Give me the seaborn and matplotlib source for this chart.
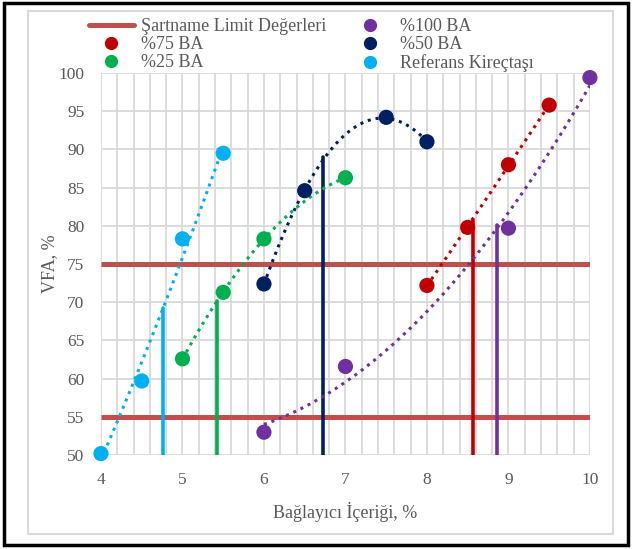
import numpy as np
import pandas as pd
import matplotlib.pyplot as plt
import matplotlib.patches as mpatches
from matplotlib.lines import Line2D
from matplotlib.ticker import MultipleLocator
import seaborn as sns

# series data
series_names = ["Referans Kireçtaşı", "%25 BA", "%50 BA", "%75 BA", "%100 BA"]
series_colors = ["#00B0F0", "#00B050", "#002060", "#C00000", "#7030A0"]

x_ref = [4.0, 4.5, 5.0, 5.5]
vfa_ref = [50.2, 59.7, 78.3, 89.5]
x_25 = [5.0, 5.5, 6.0, 7.0]
vfa_25 = [62.6, 71.3, 78.3, 86.3]
x_50 = [6.0, 6.5, 7.5, 8.0]
vfa_50 = [72.4, 84.6, 94.2, 91.0]
x_75 = [8.0, 8.5, 9.0, 9.5]
vfa_75 = [72.2, 79.8, 88.0, 95.8]
x_100 = [6.0, 7.0, 9.0, 10.0]
vfa_100 = [53.0, 61.6, 79.7, 99.4]

# specification limits and optimum binder content markers
limit_values = [55, 75]
opt_binder = [4.76, 5.42, 6.72, 8.57, 8.86]
opt_vfa = [69.2, 70.2, 89.0, 80.8, 80.1]

xs = [x_ref, x_25, x_50, x_75, x_100]
ys = [vfa_ref, vfa_25, vfa_50, vfa_75, vfa_100]
df = pd.concat([pd.DataFrame({"Bağlayıcı": x, "VFA": y, "Seri": n})
                for x, y, n in zip(xs, ys, series_names)], ignore_index=True)

sns.set_theme(style="white")
plt.rcParams['font.family'] = ['Liberation Serif', 'DejaVu Serif']
text_color = "#595959"
grid_color = "#D9D9D9"
limit_color = "#C0504D"

fig = plt.figure(figsize=(6.35, 5.49), dpi=100)
ax = fig.add_axes([0.159, 0.171, 0.770, 0.696])

ax.set_xlim(4, 10)
ax.set_ylim(50, 100)
ax.xaxis.set_major_locator(MultipleLocator(1))
ax.xaxis.set_minor_locator(MultipleLocator(0.2))
ax.yaxis.set_major_locator(MultipleLocator(5))
ax.grid(which="both", axis="x", color=grid_color, lw=1.3, zorder=0)
ax.grid(which="major", axis="y", color=grid_color, lw=1.3, zorder=0)
ax.set_axisbelow(True)
for s in ax.spines.values():
    s.set_visible(False)

# limit lines
for v in limit_values:
    ax.plot([4, 10], [v, v], color=limit_color, lw=3.6, solid_capstyle="butt", zorder=2)

# vertical optimum lines
for xv, yv, c in zip(opt_binder, opt_vfa, series_colors):
    ax.plot([xv, xv], [50, yv], color=c, lw=2.6, solid_capstyle="round", zorder=3)

# trend lines (2nd order) and points
for name, c in zip(series_names, series_colors):
    sub = df[df["Seri"] == name]
    sns.regplot(data=sub, x="Bağlayıcı", y="VFA", order=2, ci=None, scatter=False,
                ax=ax, color=c, line_kws=dict(ls=(0, (1, 1.6)), lw=2.2, zorder=4))
sns.scatterplot(data=df, x="Bağlayıcı", y="VFA", hue="Seri", palette=series_colors,
                hue_order=series_names, s=120, edgecolor="none", legend=False, ax=ax,
                zorder=5, clip_on=False)

ax.tick_params(axis="both", length=0, labelsize=12.5, colors=text_color, pad=12)
ax.set_xlabel("Bağlayıcı İçeriği, %", fontsize=13, color=text_color, labelpad=10)
ax.set_ylabel("VFA, %", fontsize=13, color=text_color, labelpad=0)

# legend
def dot(c, label):
    return Line2D([], [], ls="none", marker="o", markersize=8.5, color=c, label=label)

handles = [
    Line2D([], [], color=limit_color, lw=3.6, label="Şartname Limit Değerleri"),
    dot(series_colors[3], "%75 BA"),
    dot(series_colors[1], "%25 BA"),
    dot(series_colors[4], "%100 BA"),
    dot(series_colors[2], "%50 BA"),
    dot(series_colors[0], "Referans Kireçtaşı"),
]
leg = fig.legend(handles=handles, ncol=2, loc="upper left", bbox_to_anchor=(0.114, 0.996),
                 frameon=False, fontsize=13, handlelength=2.5, handletextpad=0.4,
                 labelspacing=0.05, columnspacing=1.2)
for t in leg.get_texts():
    t.set_color(text_color)

# chart area border and outer frame
fig.patches.append(mpatches.Rectangle((28 / 635, 1 - 534 / 549), (613 - 28) / 635, (534 - 11) / 549,
                                      transform=fig.transFigure, fill=False, ec="#D9D9D9", lw=1.5))
fig.patches.append(mpatches.Rectangle((4 / 635, 1 - 545 / 549), (628 - 4) / 635, (545 - 3) / 549,
                                      transform=fig.transFigure, fill=False, ec="black", lw=2.5))

fig.savefig("out.png", dpi=100)
